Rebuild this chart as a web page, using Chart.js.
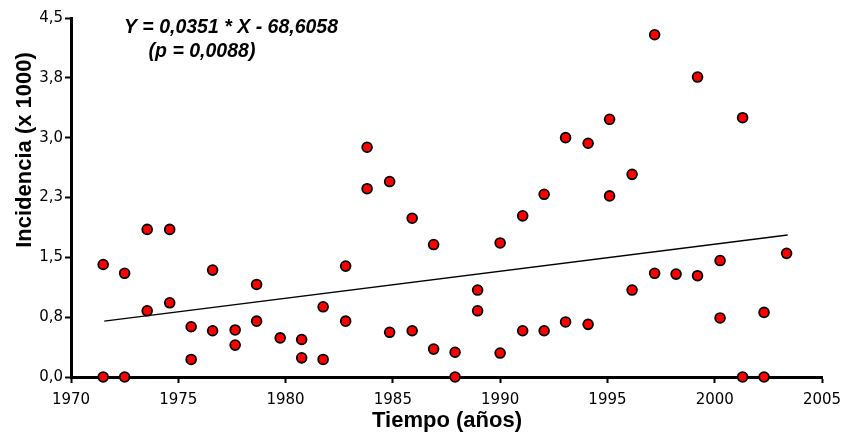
<!DOCTYPE html>
<html>
<head>
<meta charset="utf-8">
<script src="https://cdn.jsdelivr.net/npm/chart.js@4"></script>
<style>
  html, body { margin: 0; padding: 0; background: #fff; }
  canvas { display: block; }
</style>
</head>
<body>
<canvas id="incidenciaChart" width="842" height="436"></canvas>
<script>
// Años de cada observación y su incidencia (x 1000)
const years = [
  1971.5, 1971.5, 1972.5, 1972.5, 1973.55, 1973.55, 1974.6, 1974.6,
  1975.6, 1975.6, 1976.6, 1976.6, 1977.65, 1977.65, 1978.65, 1978.65,
  1979.75, 1980.75, 1980.75, 1981.75, 1981.75, 1982.8, 1982.8,
  1983.8, 1983.8, 1984.85, 1984.85, 1985.9, 1985.9, 1986.9, 1986.9,
  1987.9, 1987.9, 1988.95, 1988.95, 1990.0, 1990.0, 1991.05, 1991.05,
  1992.05, 1992.05, 1993.05, 1993.05, 1994.1, 1994.1, 1995.1, 1995.1,
  1996.15, 1996.15, 1997.2, 1997.2, 1998.2, 1999.2, 1999.2,
  2000.25, 2000.25, 2001.3, 2001.3, 2002.3, 2002.3, 2003.35
];
const incidencia = [
  0.0, 1.41, 0.0, 1.30, 1.85, 0.83, 1.85, 0.93,
  0.63, 0.22, 1.34, 0.58, 0.59, 0.40, 1.16, 0.70,
  0.49, 0.47, 0.24, 0.88, 0.22, 1.39, 0.70,
  2.88, 2.36, 2.45, 0.56, 1.99, 0.58, 1.66, 0.35,
  0.31, 0.0, 1.09, 0.83, 1.68, 0.30, 2.02, 0.58,
  2.29, 0.58, 3.00, 0.69, 2.93, 0.66, 3.23, 2.27,
  2.54, 1.09, 4.29, 1.30, 1.29, 3.76, 1.27,
  1.46, 0.74, 3.25, 0.0, 0.81, 0.0, 1.55
];

// Recta de regresión (extremos)
const trendYears = [1971.55, 2003.4];
const trendValues = [0.70, 1.78];

const xTicks = [1970, 1975, 1980, 1985, 1990, 1995, 2000, 2005];
const yTicks = [0, 0.75, 1.5, 2.25, 3.0, 3.75, 4.5];

const equationText = 'Y = 0,0351 * X - 68,6058';
const pValueText = '(p = 0,0088)';
const xTitle = 'Tiempo (años)';
const yTitle = 'Incidencia (x 1000)';

const tickFont = { family: 'DejaVu Sans', size: 15 };

// Títulos de ejes y ecuación de la recta
const labelsPlugin = {
  id: 'labelsPlugin',
  afterDraw(chart) {
    const c = chart.ctx;
    c.save();
    c.fillStyle = '#000';
    c.textAlign = 'center';
    c.textBaseline = 'alphabetic';

    c.font = 'italic bold 19.5px "Liberation Sans", Arial, sans-serif';
    c.fillText(equationText, 231, 33);
    c.fillText(pValueText, 202, 57);

    c.font = 'bold 22px "Liberation Sans", Arial, sans-serif';
    c.textBaseline = 'middle';
    c.fillText(xTitle, 447, 421);

    c.translate(25, 150);
    c.rotate(-Math.PI / 2);
    c.font = 'bold 22px "Liberation Sans", Arial, sans-serif';
    c.fillText(yTitle, 0, 0);
    c.restore();
  }
};

document.addEventListener('DOMContentLoaded', () => {
  const ctx = document.getElementById('incidenciaChart').getContext('2d');

  const points = years.map((x, i) => ({ x: x, y: incidencia[i] }));
  const trend = trendYears.map((x, i) => ({ x: x, y: trendValues[i] }));

  new Chart(ctx, {
    type: 'scatter',
    data: {
      datasets: [
        {
          type: 'line',
          data: trend,
          borderColor: '#000',
          borderWidth: 1.3,
          pointRadius: 0,
          fill: false,
          order: 2
        },
        {
          data: points,
          backgroundColor: '#ff0000',
          borderColor: '#000',
          borderWidth: 1.8,
          pointRadius: 4.9,
          clip: false,
          order: 1
        }
      ]
    },
    options: {
      responsive: false,
      animation: false,
      devicePixelRatio: 1,
      layout: { padding: { top: 18, right: 20, left: 0, bottom: 0 } },
      plugins: {
        legend: { display: false },
        tooltip: { enabled: false }
      },
      scales: {
        x: {
          type: 'linear',
          min: 1970,
          max: 2005,
          afterBuildTicks: (scale) => { scale.ticks = xTicks.map(v => ({ value: v })); },
          ticks: {
            color: '#000',
            font: tickFont,
            padding: 8,
            maxRotation: 0,
            callback: (v) => String(v)
          },
          grid: { drawOnChartArea: false, tickLength: 6, tickWidth: 2, color: '#000' },
          border: { color: '#000', width: 3 },
          afterFit: (scale) => {
            scale.height = 59;
            scale.paddingLeft = 0;
            scale.paddingRight = 0;
          }
        },
        y: {
          min: 0,
          max: 4.5,
          afterBuildTicks: (scale) => { scale.ticks = yTicks.map(v => ({ value: v })); },
          ticks: {
            color: '#000',
            font: tickFont,
            padding: 2,
            callback: (v) => v.toFixed(1).replace('.', ',')
          },
          grid: { drawOnChartArea: false, tickLength: 6, tickWidth: 2, color: '#000' },
          border: { color: '#000', width: 3 },
          afterFit: (scale) => {
            scale.width = 71;
            scale.paddingTop = 0;
            scale.paddingBottom = 0;
          }
        }
      }
    },
    plugins: [labelsPlugin]
  });
});
</script>
</body>
</html>
